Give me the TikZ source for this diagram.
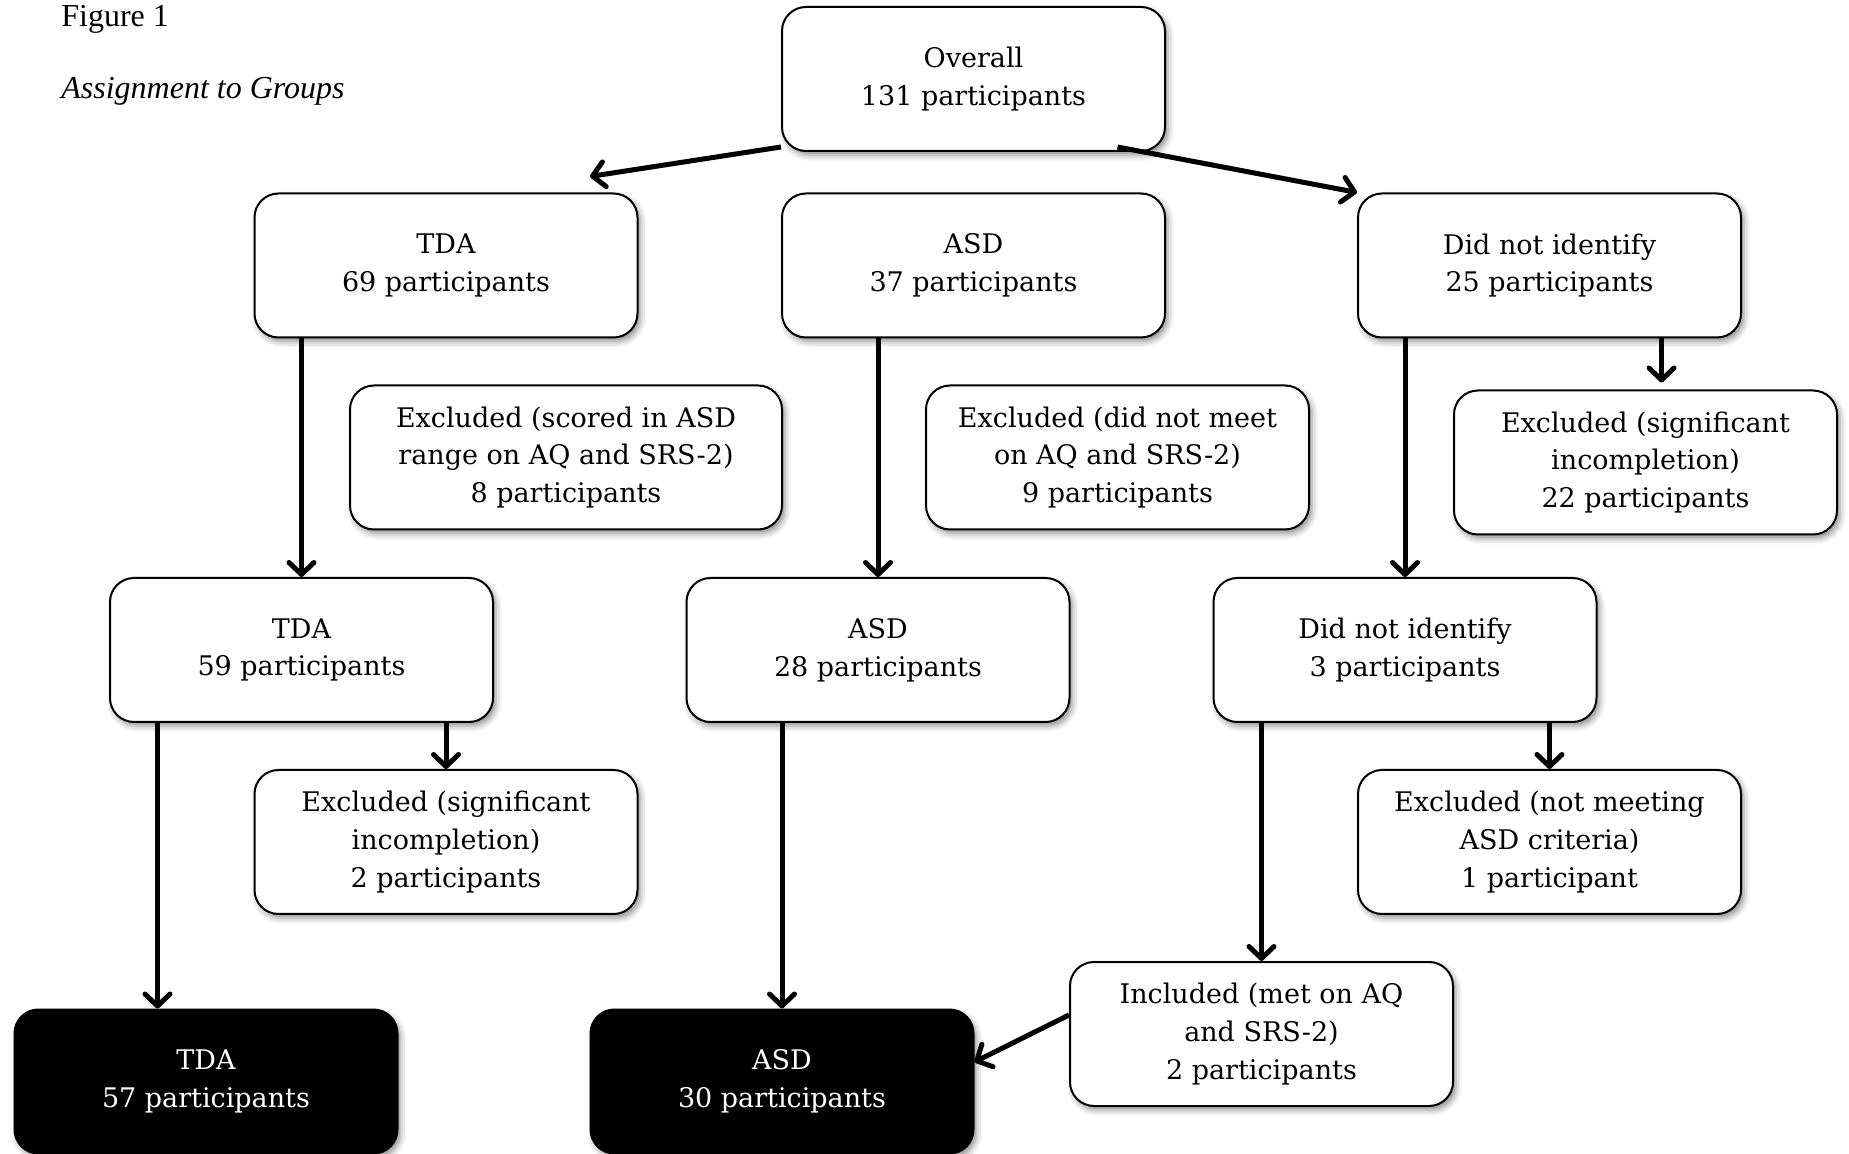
\documentclass[tikz,border=0pt]{standalone}
\usepackage{fontspec}
\newfontfamily\boxfont{DejaVu Serif}
\newfontfamily\capfont{Liberation Serif}
\usetikzlibrary{arrows.meta,shadows.blur}
\begin{document}
\begin{tikzpicture}[x=0.5pt,y=-0.5pt,
		>={Straight Barb[length=6pt,width=12.5pt,round]},
		every edge/.style={draw,line width=2.5pt},
		box/.style={draw,line width=1pt,rounded corners=12pt,fill=white,
			minimum width=191.5pt,minimum height=72pt,align=center,inner sep=0pt,
			font=\boxfont\fontsize{13.5}{18.85}\selectfont,
			blur shadow={shadow xshift=1.5pt,shadow yshift=-2pt,shadow blur radius=3pt,shadow opacity=45}},
		widebox/.style={box,minimum width=216pt},
		finalbox/.style={box,fill=black,text=white}]
		\useasboundingbox (0,0) rectangle (1849,1154);
		\node[anchor=base west,inner sep=0pt,font=\capfont\fontsize{16}{18}\selectfont] (fig) at (61,27) {Figure 1};
		\node[anchor=base west,inner sep=0pt,font=\capfont\itshape\fontsize{16}{18}\selectfont] (ttl) at (61,99) {Assignment to Groups};

		\node[box] (overall) at (973.5,79) {Overall\\131 participants};
		\node[box] (tdaA) at (446,265.5) {TDA\\69 participants};
		\node[box] (asdA) at (973.5,265.5) {ASD\\37 participants};
		\node[box] (dniA) at (1549.5,265.5) {Did not identify\\25 participants};
		\node[widebox] (exTdaA) at (566,457.5) {Excluded (scored in ASD\\range on AQ and SRS-2)\\8 participants};
		\node[box] (exAsdA) at (1117.5,457.5) {Excluded (did not meet\\on AQ and SRS-2)\\9 participants};
		\node[box] (exDniA) at (1645.5,462.5) {Excluded (significant\\incompletion)\\22 participants};
		\node[box] (tdaB) at (301.5,650) {TDA\\59 participants};
		\node[box] (asdB) at (878,650) {ASD\\28 participants};
		\node[box] (dniB) at (1405,650) {Did not identify\\3 participants};
		\node[box] (exTdaB) at (446,842) {Excluded (significant\\incompletion)\\2 participants};
		\node[box] (exDniB) at (1549.5,842) {Excluded (not meeting\\ASD criteria)\\1 participant};
		\node[box] (incl) at (1261.5,1034) {Included (met on AQ\\and SRS-2)\\2 participants};
		\node[finalbox] (tdaC) at (206,1081.5) {TDA\\57 participants};
		\node[finalbox] (asdC) at (782,1081.5) {ASD\\30 participants};

		\path[->] ([yshift=2.5pt]overall.south west) edge ([xshift=72pt,yshift=8pt]tdaA.north);
		\path[->] ([xshift=72pt,yshift=2.5pt]overall.south) edge (dniA.north west);
		\path[->] (tdaA.south -| tdaB.north) edge (tdaB.north);
		\path[->] (asdA.south -| asdB.north) edge (asdB.north);
		\path[->] (dniA.south -| dniB.north) edge (dniB.north);
		\path[->] ([xshift=8pt]exDniA.north |- dniA.south) edge ([xshift=8pt,yshift=3.5pt]exDniA.north);
		\path[->] ([xshift=-72pt]tdaB.south) edge ([xshift=-72pt]tdaB.south |- tdaC.north);
		\path[->] (tdaB.south -| exTdaB.north) edge (exTdaB.north);
		\path[->] (asdB.south -| asdC.north) edge (asdC.north);
		\path[->] (dniB.south -| incl.north) edge (incl.north);
		\path[->] (dniB.south -| exDniB.north) edge (exDniB.north);
		\path[->] ([yshift=9.5pt]incl.west) edge ([yshift=9.75pt]asdC.east);
	\end{tikzpicture}
\end{document}
